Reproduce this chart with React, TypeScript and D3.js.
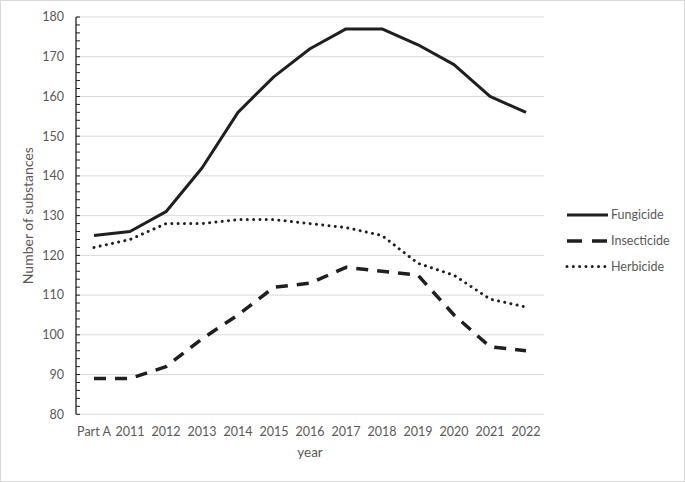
import React from "react";
import * as d3 from "d3";

const categories = ["Part A", "2011", "2012", "2013", "2014", "2015", "2016", "2017", "2018", "2019", "2020", "2021", "2022"];
const fungicide = [125, 126, 131, 142, 156, 165, 172, 177, 177, 173, 168, 160, 156];
const insecticide = [89, 89, 92, 99, 105, 112, 113, 117, 116, 115, 105, 97, 96];
const herbicide = [122, 124, 128, 128, 129, 129, 128, 127, 125, 118, 115, 109, 107];
const yTicks = [80, 90, 100, 110, 120, 130, 140, 150, 160, 170, 180];
const seriesNames = ["Fungicide", "Insecticide", "Herbicide"];

const W = 685, H = 482;
const left = 76, right = 544, top = 17, bottom = 414.3;
const FONT = "Lato, 'Open Sans', sans-serif";
const TEXT = "#595959";
const LINE = "#1f1f1f";

const styles: Record<string, { width: number; dash?: string; cap: "butt" | "round" }> = {
  Fungicide: { width: 3, cap: "butt" },
  Insecticide: { width: 3.5, dash: "12 9", cap: "butt" },
  Herbicide: { width: 3, dash: "0.01 6.3", cap: "round" },
};

export default function App() {
  const x = d3.scaleBand<string>().domain(categories).range([left, right]);
  const y = d3.scaleLinear().domain([80, 180]).range([bottom, top]);
  const cx = (c: string) => (x(c) ?? 0) + x.bandwidth() / 2;
  const line = d3
    .line<number>()
    .x((_, i) => cx(categories[i]))
    .y((d) => y(d))
    .curve(d3.curveLinear);
  const data: Record<string, number[]> = { Fungicide: fungicide, Insecticide: insecticide, Herbicide: herbicide };
  const minor = d3.range(80, 181, 2);
  const legendY = [215, 241, 266.5];

  return (
    <svg width={W} height={H} style={{ position: "absolute", left: 0, top: 0 }} fontFamily={FONT}>
      <rect x={0} y={0} width={W} height={H} fill="#fff" />
      <rect x={0.5} y={0.5} width={W - 1} height={H - 1} fill="none" stroke="#d9d9d9" />
      {yTicks.map((t) => (
        <line key={"g" + t} x1={left} x2={right} y1={y(t)} y2={y(t)} stroke="#d9d9d9" strokeWidth={1} />
      ))}
      <line x1={left} x2={left} y1={y(180)} y2={y(80)} stroke={LINE} strokeWidth={1.3} />
      {minor.map((t) => (
        <line key={"m" + t} x1={left} x2={left + 4} y1={y(t)} y2={y(t)} stroke={LINE} strokeWidth={1} />
      ))}
      {yTicks.map((t) => (
        <text key={"yl" + t} x={64} y={y(t)} dy="0.35em" textAnchor="end" fontSize={12.5} fill={TEXT}>
          {t}
        </text>
      ))}
      {categories.map((c) => (
        <text key={"xl" + c} x={cx(c)} y={436} textAnchor="middle" fontSize={12.5} fill={TEXT}>
          {c}
        </text>
      ))}
      <text x={(left + right) / 2} y={457} textAnchor="middle" fontSize={13.5} fill={TEXT}>
        year
      </text>
      <text
        transform={`translate(33,${(top + bottom) / 2}) rotate(-90)`}
        textAnchor="middle"
        fontSize={14}
        fill={TEXT}
      >
        Number of substances
      </text>
      {seriesNames.map((s) => (
        <path
          key={s}
          d={line(data[s]) ?? ""}
          fill="none"
          stroke={LINE}
          strokeWidth={styles[s].width}
          strokeDasharray={styles[s].dash}
          strokeLinecap={styles[s].cap}
          strokeLinejoin="round"
        />
      ))}
      {seriesNames.map((s, i) => (
        <g key={"lg" + s}>
          <line
            x1={567}
            x2={608}
            y1={legendY[i]}
            y2={legendY[i]}
            stroke={LINE}
            strokeWidth={styles[s].width}
            strokeDasharray={s === "Insecticide" ? "15 10" : styles[s].dash}
            strokeLinecap={styles[s].cap}
          />
          <text x={611} y={legendY[i]} dy="0.35em" fontSize={12.5} fill={TEXT}>
            {s}
          </text>
        </g>
      ))}
    </svg>
  );
}
